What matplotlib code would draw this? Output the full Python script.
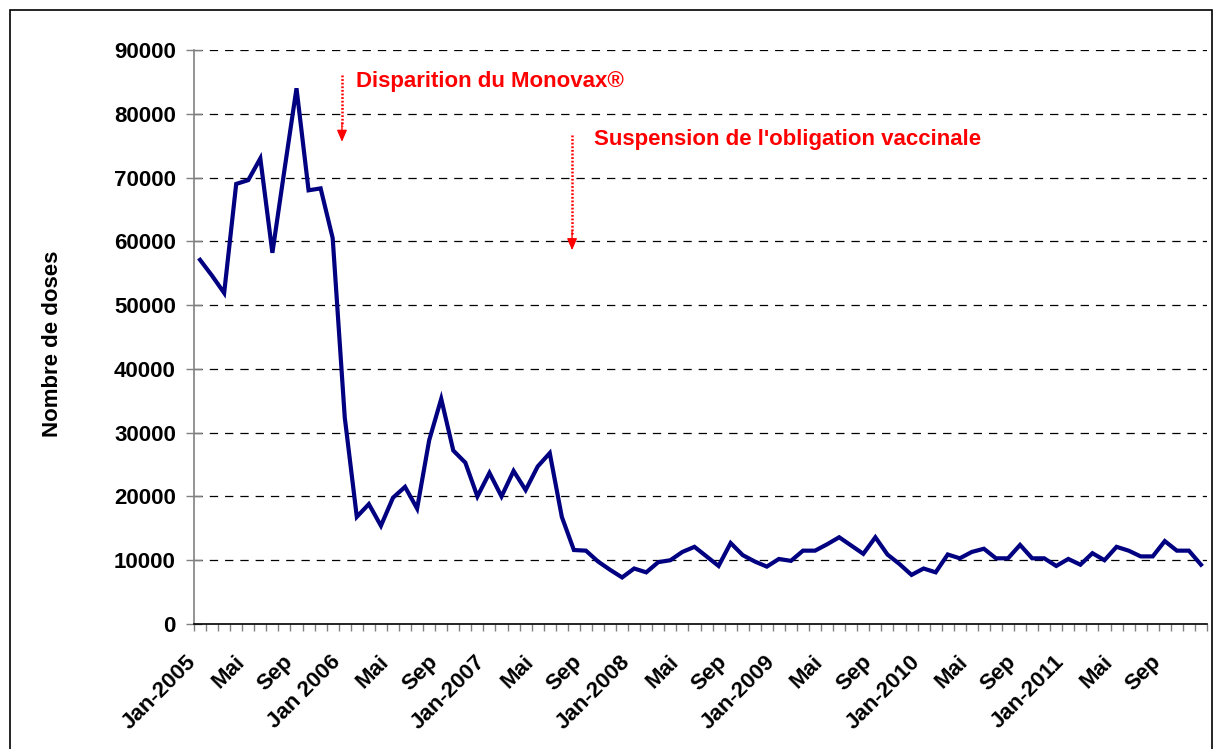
import numpy as np
import matplotlib
matplotlib.use("Agg")
import matplotlib.pyplot as plt
from matplotlib.patches import Rectangle

plt.rcParams['font.family'] = ['Liberation Sans', 'DejaVu Sans']
plt.rcParams['lines.scale_dashes'] = False

# ---- data ----
doses = [57100, 54600, 51900, 69000, 69600, 73000, 58200, 71200, 84000, 68000, 68300, 60500,
         32400, 16800, 18800, 15400, 19800, 21500, 18100, 28800, 35300, 27200, 25300, 20000,
         23700, 20000, 24000, 21000, 24700, 26800, 16800, 11600, 11500, 9800, 8500, 7300,
         8700, 8100, 9700, 10000, 11300, 12100, 10600, 9100, 12700, 10800, 9800, 9000,
         10200, 9900, 11500, 11500, 12500, 13600, 12300, 11000, 13600, 10900, 9400, 7700,
         8700, 8100, 10900, 10300, 11300, 11800, 10300, 10300, 12400, 10300, 10300, 9100,
         10200, 9300, 11100, 10000, 12100, 11500, 10600, 10600, 13000, 11500, 11500, 9300]
tick_labels = ["Jan-2005", "Mai", "Sep", "Jan 2006", "Mai", "Sep", "Jan-2007", "Mai", "Sep",
               "Jan-2008", "Mai", "Sep", "Jan-2009", "Mai", "Sep", "Jan-2010", "Mai", "Sep",
               "Jan-2011", "Mai", "Sep"]
label_step = 4
y_ticks = list(range(0, 90001, 10000))
ylabel = "Nombre de doses"
annot1 = "Disparition du Monovax\u00ae"
annot2 = "Suspension de l'obligation vaccinale"
# annotation placement (month index, value)
arrow1 = (11.77, 86100, 75600)
arrow2 = (30.85, 76700, 58600)
text1_pos = (12.95, 85000)
text2_pos = (32.67, 75900)

W, H = 1214, 749
fig = plt.figure(figsize=(W / 100, H / 100), dpi=100)
ax = fig.add_axes([194 / W, (H - 624) / H, (1207 - 194) / W, (624 - 50) / H])

x = np.arange(len(doses))
ax.plot(x, doses, color='#000080', lw=3.0, solid_joinstyle='miter', zorder=3)

ax.set_xlim(-0.5, len(doses) - 0.5)
ax.set_ylim(0, 90000)

# grid
for v in y_ticks[1:]:
    ax.axhline(v, color='black', lw=0.9, dashes=(6, 5), zorder=1)

# spines
for s in ['top', 'right']:
    ax.spines[s].set_visible(False)
ax.spines['left'].set_color('#808080')
ax.spines['left'].set_linewidth(1.2)
ax.spines['bottom'].set_color('black')
ax.spines['bottom'].set_linewidth(1.2)

# y ticks
ax.set_yticks(y_ticks)
ax.set_yticklabels([str(v) for v in y_ticks], fontsize=16, fontweight='bold')
ax.tick_params(axis='y', direction='inout', length=12, width=1, color='#808080', pad=7)

# x ticks: minor at boundaries, labels at category centres
ax.set_xticks(np.arange(-0.5, len(doses), 1.0), minor=True)
ax.tick_params(axis='x', which='minor', direction='out', length=5, width=1, color='#808080')
ax.set_xticks(np.arange(0, len(doses), label_step))
ax.set_xticklabels([])
ax.tick_params(axis='x', which='major', length=0)
for pos, lab in zip(np.arange(0, len(doses), label_step), tick_labels):
    ax.annotate(lab, xy=(pos, 0), xycoords=('data', 'axes fraction'),
                xytext=(-5, -25), textcoords='offset points', rotation=45,
                ha='right', va='center', rotation_mode='anchor',
                fontsize=16, fontweight='bold', annotation_clip=False)

# y label
fig.text(52 / W, 1 - 343.5 / H, ylabel, rotation=90, ha='center', va='center',
         fontsize=16, fontweight='bold')

# annotations
for (ax_x, y0, y1) in [arrow1, arrow2]:
    ax.plot([ax_x, ax_x], [y0, y1 + 2500], color='#FF0000', lw=1.8,
            dashes=(1.3, 1.3), zorder=4)
    ax.annotate('', xy=(ax_x, y1), xytext=(ax_x, y1 + 3000),
                arrowprops=dict(arrowstyle='-|>,head_width=0.3,head_length=0.7',
                                color='#FF0000', lw=1.0,
                                shrinkA=0, shrinkB=0))
ax.text(*text1_pos, annot1, color='#FF0000', fontsize=16, fontweight='bold',
        ha='left', va='center')
ax.text(*text2_pos, annot2, color='#FF0000', fontsize=16, fontweight='bold',
        ha='left', va='center')

# outer frame
fig.patches.append(Rectangle((10 / W, -0.05), (1212 - 10) / W, 1 - 10 / H + 0.05,
                             transform=fig.transFigure, fill=False, ec='black', lw=1.2))

fig.savefig('out.png', dpi=100)
